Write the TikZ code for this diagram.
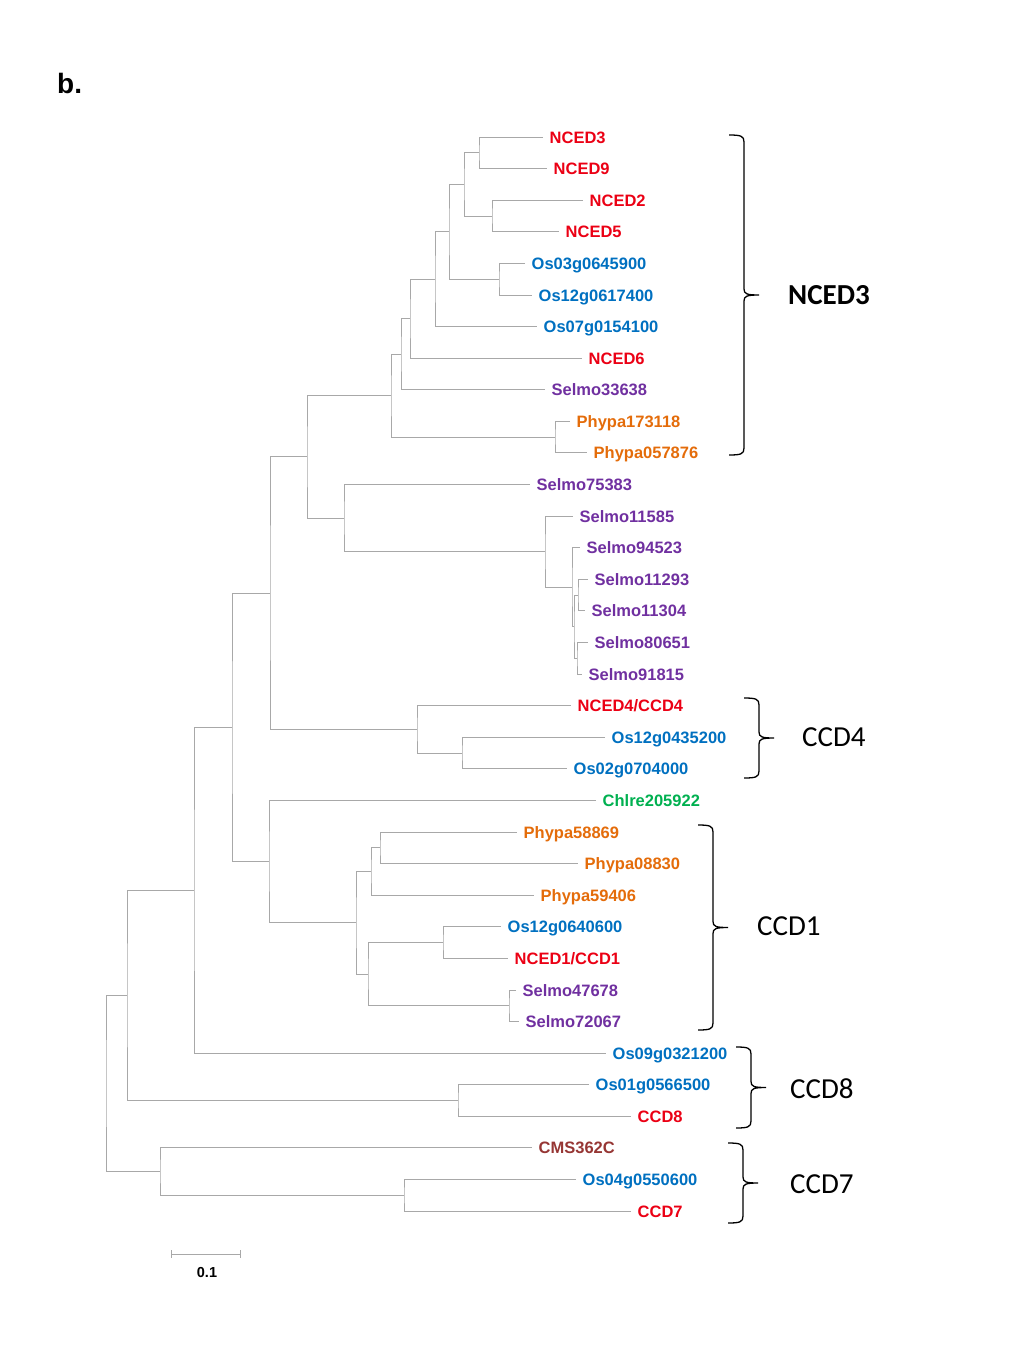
\documentclass[tikz,border=0pt]{standalone}
\usepackage{fontspec}
\setmainfont{Liberation Sans}
\newfontfamily\calibri{Carlito}
\usetikzlibrary{calc}

\definecolor{ncedred}{RGB}{235,0,20}
\definecolor{osblue}{RGB}{0,112,192}
\definecolor{selpurple}{RGB}{112,48,160}
\definecolor{phyorange}{RGB}{228,108,10}
\definecolor{chlgreen}{RGB}{0,176,80}
\definecolor{cmsbrown}{RGB}{150,54,52}
\definecolor{branchgray}{RGB}{168,168,168}

% leaf: name, x, y, colour, text
\newcommand{\leaf}[5]{%
  \coordinate (#1) at (#2,#3);
  \node[leaflabel,text=#4] (#1-t) at (#1) {#5};}
% clade: parent, upper child, lower child
\newcommand{\clade}[3]{\draw[branch] (#2) -| (#1) |- (#3);}
% brace: name, x, top, bottom
\newcommand{\cladebrace}[4]{%
  \pgfmathsetmacro{\bmid}{(#3+#4)/2}
  \coordinate (#1) at ({#2+15},\bmid);
  \draw[bracestyle] ({#2-15},#3) .. controls ({#2-3},#3) and (#2,{#3+1}) .. (#2,{#3+7})
    -- (#2,{\bmid-6}) .. controls (#2,{\bmid-1}) and ({#2+3},\bmid) .. (#1)
    .. controls ({#2+3},\bmid) and (#2,{\bmid+1}) .. (#2,{\bmid+6})
    -- (#2,{#4-7}) .. controls (#2,{#4-1}) and ({#2-3},#4) .. ({#2-15},#4);}

\begin{document}
\begin{tikzpicture}[x=1pt,y=-1pt,
    branch/.style={draw=branchgray,line width=0.9pt},
    leaflabel/.style={anchor=base west,inner sep=0pt,xshift=6.5pt,yshift=-6pt,
      font=\fontsize{16.5}{18}\selectfont\bfseries},
    bracestyle/.style={draw=black,line width=1.3pt},
    cladelabel/.style={anchor=base west,inner sep=0pt,
      font=\calibri\fontsize{29}{32}\selectfont}]
    \useasboundingbox (0,0) rectangle (1024,1365);

    \node[anchor=base west,inner sep=0pt,font=\fontsize{28}{30}\selectfont\bfseries] (panel) at (57,93) {b.};

    % leaves
    \leaf{nced3}{543}{137}{ncedred}{NCED3}
    \leaf{nced9}{547}{168.6}{ncedred}{NCED9}
    \leaf{nced2}{583}{200.2}{ncedred}{NCED2}
    \leaf{nced5}{559}{231.8}{ncedred}{NCED5}
    \leaf{os03}{525}{263.4}{osblue}{Os03g0645900}
    \leaf{os12a}{532}{295.0}{osblue}{Os12g0617400}
    \leaf{os07}{537}{326.5}{osblue}{Os07g0154100}
    \leaf{nced6}{582}{358.1}{ncedred}{NCED6}
    \leaf{sel336}{545}{389.7}{selpurple}{Selmo33638}
    \leaf{phy173}{570}{421.3}{phyorange}{Phypa173118}
    \leaf{phy057}{587}{452.9}{phyorange}{Phypa057876}
    \leaf{sel753}{530}{484.5}{selpurple}{Selmo75383}
    \leaf{sel115}{573}{516.1}{selpurple}{Selmo11585}
    \leaf{sel945}{580}{547.7}{selpurple}{Selmo94523}
    \leaf{sel112}{588}{579.3}{selpurple}{Selmo11293}
    \leaf{sel113}{585}{610.9}{selpurple}{Selmo11304}
    \leaf{sel806}{588}{642.4}{selpurple}{Selmo80651}
    \leaf{sel918}{582}{674.0}{selpurple}{Selmo91815}
    \leaf{nced4}{571}{705.6}{ncedred}{NCED4/CCD4}
    \leaf{os12b}{605}{737.2}{osblue}{Os12g0435200}
    \leaf{os02}{567}{768.8}{osblue}{Os02g0704000}
    \leaf{chl}{596}{800.4}{chlgreen}{Chlre205922}
    \leaf{phy588}{517}{832.0}{phyorange}{Phypa58869}
    \leaf{phy088}{578}{863.6}{phyorange}{Phypa08830}
    \leaf{phy594}{534}{895.2}{phyorange}{Phypa59406}
    \leaf{os12c}{501}{926.8}{osblue}{Os12g0640600}
    \leaf{nced1}{508}{958.4}{ncedred}{NCED1/CCD1}
    \leaf{sel476}{516}{990.0}{selpurple}{Selmo47678}
    \leaf{sel720}{519}{1021.6}{selpurple}{Selmo72067}
    \leaf{os09}{606}{1053.1}{osblue}{Os09g0321200}
    \leaf{os01}{589}{1084.7}{osblue}{Os01g0566500}
    \leaf{ccd8}{631}{1116.3}{ncedred}{CCD8}
    \leaf{cms}{532}{1147.9}{cmsbrown}{CMS362C}
    \leaf{os04}{576}{1179.5}{osblue}{Os04g0550600}
    \leaf{ccd7}{631}{1211.1}{ncedred}{CCD7}

    % inner nodes
    \coordinate (a39) at (479,152.8);
    \coordinate (a25) at (492,216.0);
    \coordinate (a3925) at (464,184.4);
    \coordinate (aos) at (499,279.2);
    \coordinate (b1) at (449,231.8);
    \coordinate (b2) at (435,279.2);
    \coordinate (b3) at (410,318.6);
    \coordinate (b4) at (401,354.2);
    \coordinate (aphy) at (555,437.1);
    \coordinate (b5) at (391,395.6);
    \coordinate (s1) at (578,595.1);
    \coordinate (s2) at (577,658.2);
    \coordinate (s3) at (574,626.7);
    \coordinate (s4) at (572,587.2);
    \coordinate (s5) at (545,551.6);
    \coordinate (s6) at (344,518.1);
    \coordinate (c1) at (307,456.8);
    \coordinate (d1) at (462,753.0);
    \coordinate (d2) at (417,729.3);
    \coordinate (c2) at (270,593.1);
    \coordinate (e1) at (380,847.8);
    \coordinate (e2) at (371,871.5);
    \coordinate (e3) at (443,942.6);
    \coordinate (e4) at (509,1005.8);
    \coordinate (e5) at (368,974.2);
    \coordinate (e6) at (356,922.9);
    \coordinate (e7) at (269,861.6);
    \coordinate (f1) at (232,727.4);
    \coordinate (f2) at (194,890.3);
    \coordinate (g1) at (458,1100.5);
    \coordinate (f3) at (127,995.4);
    \coordinate (h1) at (404,1195.3);
    \coordinate (h2) at (160,1171.6);
    \coordinate (root) at (106,1083.5);

    % branches
    \clade{a39}{nced3}{nced9}
    \clade{a25}{nced2}{nced5}
    \clade{a3925}{a39}{a25}
    \clade{aos}{os03}{os12a}
    \clade{b1}{a3925}{aos}
    \clade{b2}{b1}{os07}
    \clade{b3}{b2}{nced6}
    \clade{b4}{b3}{sel336}
    \clade{aphy}{phy173}{phy057}
    \clade{b5}{b4}{aphy}
    \clade{s1}{sel112}{sel113}
    \clade{s2}{sel806}{sel918}
    \clade{s3}{s1}{s2}
    \clade{s4}{sel945}{s3}
    \clade{s5}{sel115}{s4}
    \clade{s6}{sel753}{s5}
    \clade{c1}{b5}{s6}
    \clade{d1}{os12b}{os02}
    \clade{d2}{nced4}{d1}
    \clade{c2}{c1}{d2}
    \clade{e1}{phy588}{phy088}
    \clade{e2}{e1}{phy594}
    \clade{e3}{os12c}{nced1}
    \clade{e4}{sel476}{sel720}
    \clade{e5}{e3}{e4}
    \clade{e6}{e2}{e5}
    \clade{e7}{chl}{e6}
    \clade{f1}{c2}{e7}
    \clade{f2}{f1}{os09}
    \clade{g1}{os01}{ccd8}
    \clade{f3}{f2}{g1}
    \clade{h1}{os04}{ccd7}
    \clade{h2}{cms}{h1}
    \clade{root}{f3}{h2}

    % scale bar
    \coordinate (sbl) at (171,1254);
    \coordinate (sbr) at (240,1254);
    \draw[branch] (sbl) -- (sbr);
    \draw[branch] ($(sbl)+(0,-4)$) -- ($(sbl)+(0,4)$);
    \draw[branch] ($(sbr)+(0,-4)$) -- ($(sbr)+(0,4)$);
    \node[font=\fontsize{14.5}{16}\selectfont\bfseries,inner sep=0pt] (sbt) at (207,1272) {0.1};

    % clade braces
    \cladebrace{brnced}{744}{135}{455}
    \cladebrace{brccdfour}{759}{698}{778}
    \cladebrace{brccdone}{713}{825}{1030}
    \cladebrace{brccdeight}{751}{1047}{1128}
    \cladebrace{brccdseven}{743}{1143}{1223}
    \node[cladelabel,font=\calibri\fontsize{29}{32}\selectfont\bfseries] (lnced) at (788,304.5) {NCED3};
    \node[cladelabel] (lccdfour) at (802,746.5) {CCD4};
    \node[cladelabel] (lccdone) at (757,935.5) {CCD1};
    \node[cladelabel] (lccdeight) at (790,1098) {CCD8};
    \node[cladelabel] (lccdseven) at (790,1193) {CCD7};
\end{tikzpicture}
\end{document}
